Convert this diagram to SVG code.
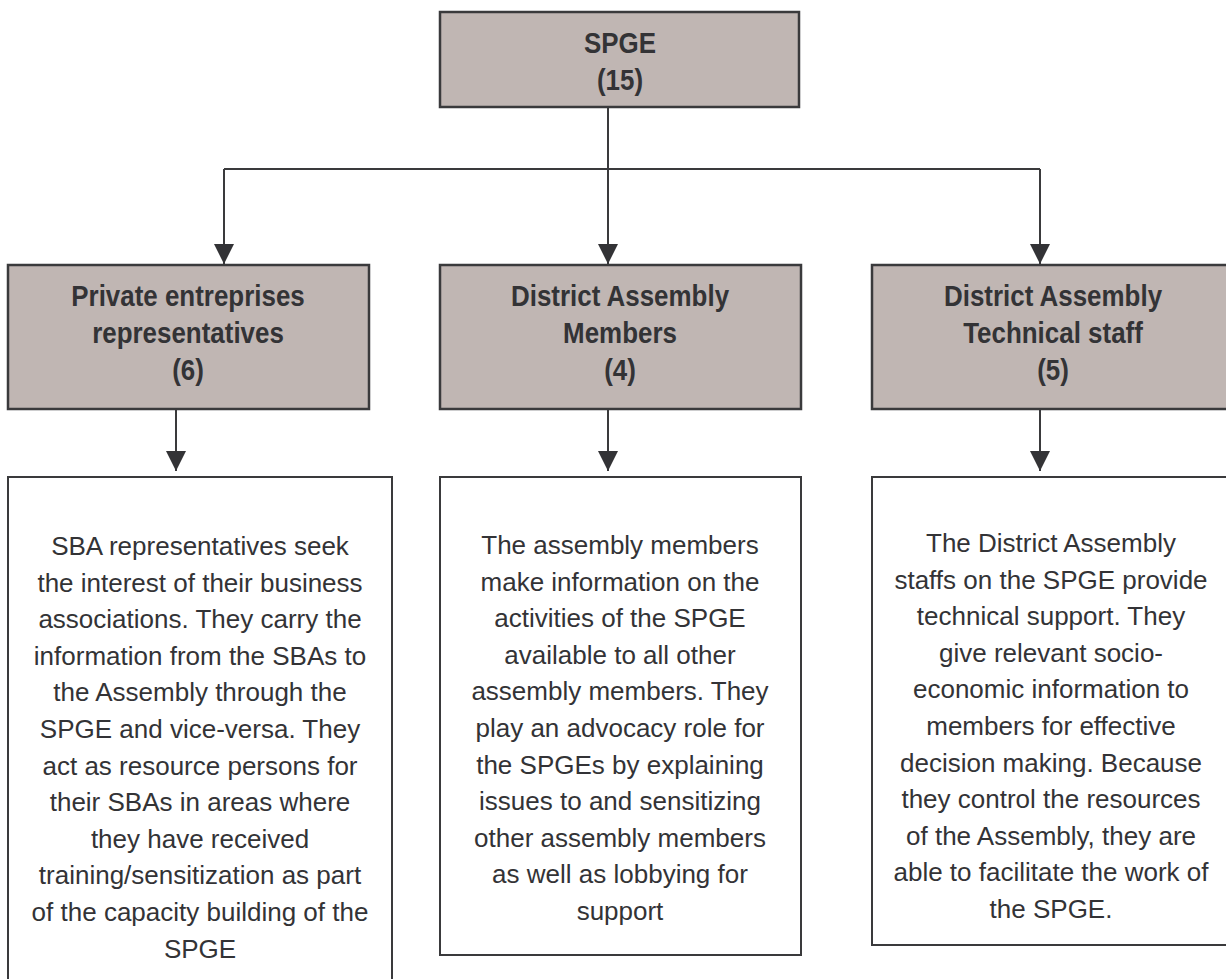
<svg xmlns="http://www.w3.org/2000/svg" width="1226" height="979" viewBox="0 0 1226 979">
<style>
.hdr{fill:#c0b6b3;stroke:#3a3a3c;stroke-width:2.5}
.box{fill:#ffffff;stroke:#3a3a3c;stroke-width:2}
.ht{font-family:"Liberation Sans",Arial,sans-serif;font-weight:bold;font-size:30px;fill:#333336;text-anchor:middle}
.bt{font-family:"Liberation Sans",Arial,sans-serif;font-size:26px;fill:#333336;text-anchor:middle}
.con{fill:none;stroke:#3a3a3c;stroke-width:2}
</style>
<defs>
<marker id="arr" markerUnits="userSpaceOnUse" markerWidth="20" markerHeight="20" refX="20" refY="10" orient="auto" viewBox="0 0 20 20">
<path d="M0,0 L20,10 L0,20 z" fill="#333336"/>
</marker>
</defs>
<rect width="1226" height="979" fill="#ffffff"/>
<g id="connectors">
<path class="con" d="M608,107 V264" marker-end="url(#arr)"/>
<path class="con" d="M224,169 H1040"/>
<path class="con" d="M224,169 V264" marker-end="url(#arr)"/>
<path class="con" d="M1040,169 V264" marker-end="url(#arr)"/>
<path class="con" d="M176,409 V471" marker-end="url(#arr)"/>
<path class="con" d="M608,409 V471" marker-end="url(#arr)"/>
<path class="con" d="M1040,409 V471" marker-end="url(#arr)"/>
</g>
<g id="spge">
<rect class="hdr" x="440" y="12" width="359" height="95"/>
<text class="ht" transform="translate(620,53) scale(0.865,1)">SPGE</text>
<text class="ht" transform="translate(620,90) scale(0.865,1)">(15)</text>
</g>
<g id="private">
<rect class="hdr" x="8" y="265" width="361" height="144"/>
<text class="ht" transform="translate(188,306) scale(0.865,1)">Private entreprises</text>
<text class="ht" transform="translate(188,343) scale(0.865,1)">representatives</text>
<text class="ht" transform="translate(188,380) scale(0.865,1)">(6)</text>
</g>
<g id="members">
<rect class="hdr" x="440" y="265" width="361" height="144"/>
<text class="ht" transform="translate(620,306) scale(0.865,1)">District Assembly</text>
<text class="ht" transform="translate(620,343) scale(0.865,1)">Members</text>
<text class="ht" transform="translate(620,380) scale(0.865,1)">(4)</text>
</g>
<g id="technical">
<rect class="hdr" x="872" y="265" width="362" height="144"/>
<text class="ht" transform="translate(1053,306) scale(0.865,1)">District Assembly</text>
<text class="ht" transform="translate(1053,343) scale(0.865,1)">Technical staff</text>
<text class="ht" transform="translate(1053,380) scale(0.865,1)">(5)</text>
</g>
<g id="private-desc">
<rect class="box" x="8" y="477" width="384" height="520"/>
<text class="bt" x="200" y="555">SBA representatives seek</text>
<text class="bt" x="200" y="591.6">the interest of their business</text>
<text class="bt" x="200" y="628.2">associations. They carry the</text>
<text class="bt" x="200" y="664.8">information from the SBAs to</text>
<text class="bt" x="200" y="701.4">the Assembly through the</text>
<text class="bt" x="200" y="738">SPGE and vice-versa. They</text>
<text class="bt" x="200" y="774.6">act as resource persons for</text>
<text class="bt" x="200" y="811.2">their SBAs in areas where</text>
<text class="bt" x="200" y="847.8">they have received</text>
<text class="bt" x="200" y="884.4">training/sensitization as part</text>
<text class="bt" x="200" y="921">of the capacity building of the</text>
<text class="bt" x="200" y="957.6">SPGE</text>
</g>
<g id="members-desc">
<rect class="box" x="440" y="477" width="361" height="478"/>
<text class="bt" x="620" y="554">The assembly members</text>
<text class="bt" x="620" y="590.6">make information on the</text>
<text class="bt" x="620" y="627.2">activities of the SPGE</text>
<text class="bt" x="620" y="663.8">available to all other</text>
<text class="bt" x="620" y="700.4">assembly members. They</text>
<text class="bt" x="620" y="737">play an advocacy role for</text>
<text class="bt" x="620" y="773.6">the SPGEs by explaining</text>
<text class="bt" x="620" y="810.2">issues to and sensitizing</text>
<text class="bt" x="620" y="846.8">other assembly members</text>
<text class="bt" x="620" y="883.4">as well as lobbying for</text>
<text class="bt" x="620" y="920">support</text>
</g>
<g id="technical-desc">
<rect class="box" x="872" y="477" width="362" height="468"/>
<text class="bt" x="1051" y="552">The District Assembly</text>
<text class="bt" x="1051" y="588.6">staffs on the SPGE provide</text>
<text class="bt" x="1051" y="625.2">technical support. They</text>
<text class="bt" x="1051" y="661.8">give relevant socio-</text>
<text class="bt" x="1051" y="698.4">economic information to</text>
<text class="bt" x="1051" y="735">members for effective</text>
<text class="bt" x="1051" y="771.6">decision making. Because</text>
<text class="bt" x="1051" y="808.2">they control the resources</text>
<text class="bt" x="1051" y="844.8">of the Assembly, they are</text>
<text class="bt" x="1051" y="881.4">able to facilitate the work of</text>
<text class="bt" x="1051" y="918">the SPGE.</text>
</g>
</svg>
